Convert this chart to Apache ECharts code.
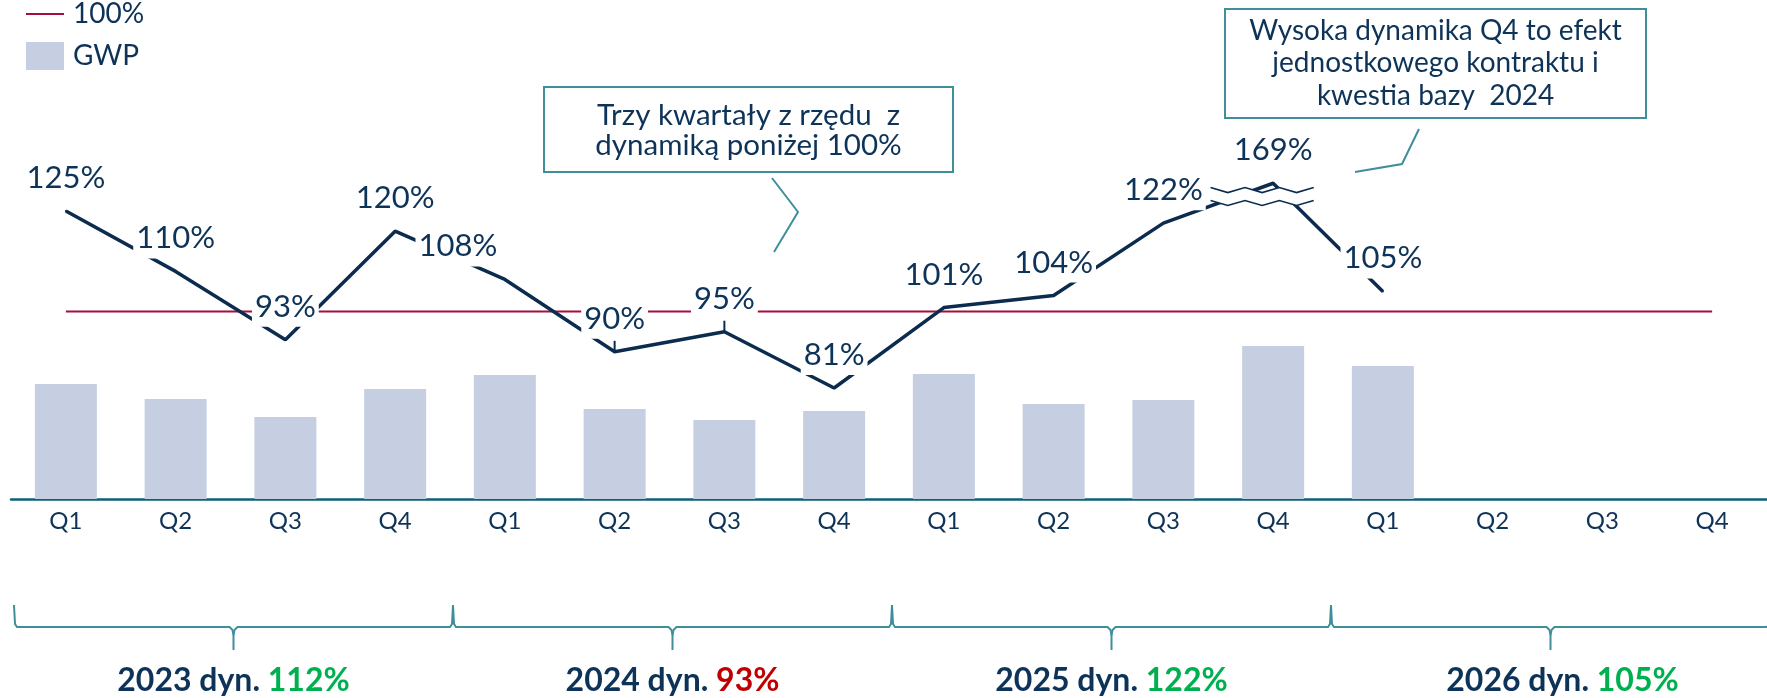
<!DOCTYPE html>
<html><head><meta charset="utf-8">
<script src="https://cdn.jsdelivr.net/npm/echarts@6/dist/echarts.min.js"></script>
<style>html,body{margin:0;padding:0;background:#fff}#c{width:1767px;height:698px}</style>
</head><body><div id="c"></div>
<script>
// ---- data ----
const quarters = ['Q1','Q2','Q3','Q4','Q1','Q2','Q3','Q4','Q1','Q2','Q3','Q4','Q1','Q2','Q3','Q4'];
const gwp = [115, 100, 82, 110, 124, 90, 79, 88, 125, 95, 99, 153, 133, null, null, null];
const dynamics = [125, 110, 93, 120, 108, 90, 95, 81, 101, 104, 122, 169, 105, null, null, null];
const reference100 = [100,100,100,100,100,100,100,100,100,100,100,100,100,100,100,100];
const years = ['2023','2024','2025','2026'];
const yearDynamics = [112, 93, 122, 105];
const yearStart = [0, 4, 8, 12];
const yearEnd = [3, 7, 11, 15];
const breakStart = 127, breakEnd = 167.3;
const breakQuarter = 11;
const note1 = 'Trzy kwartały z rzędu  z\ndynamiką poniżej 100%';
const note2 = 'Wysoka dynamika Q4 to efekt\njednostkowego kontraktu i\nkwestia bazy  2024';

// ---- style ----
const NAVY = '#0e3358', LINE = '#0b2c4f', RED = '#a50f3e', BAR = '#c5cfe1',
      TEAL = '#3e8e9c', AXIS = '#0b6178', GREEN = '#00b050', DRED = '#c00000';
const FONT = 'Lato, "Noto Sans", sans-serif';
// line-shaped legend icon (invisible corner points keep the 38x28 box unscaled)
const LINE_ICON = 'path://M0,0L0.01,0L0.01,0.01Z M0,13L38,13L38,15L0,15Z M37.99,28L38,28L38,27.99Z';

const chart = echarts.init(document.getElementById('c'), null, {renderer: 'canvas'});

const dynItems = dynamics.map((v, i) => {
  if (v === null) return null;
  const item = {value: v};
  if (i === 4) item.label = {offset: [-47, 0]};
  if (i === 5 || i === 6) {
    item.symbol = 'rect'; item.symbolSize = [2, 11]; item.symbolOffset = [0, -5.5];
    item.label = {distance: 2};
  }
  return item;
});

function renderZigzag(params, api) {
  const i = api.value(0);
  const lo = api.coord([i, api.value(1)]);
  const hi = api.coord([i, api.value(2)]);
  const w = api.size([1, 0])[0];
  const x0 = lo[0] - 0.57 * w, x1 = lo[0] + 0.37 * w;
  const n = 6, amp = 2.5;
  const top = [], bot = [];
  for (let k = 0; k <= n; k++) {
    const x = x0 + (x1 - x0) * k / n;
    const d = (k % 2 ? amp : -amp);
    top.push([x, hi[1] + d]);
    bot.push([x, lo[1] + d]);
  }
  return {type: 'group', children: [
    {type: 'polygon', shape: {points: top.concat(bot.slice().reverse())}, style: {fill: '#fff'}},
    {type: 'polyline', shape: {points: top}, style: {stroke: LINE, lineWidth: 1.6, fill: null}},
    {type: 'polyline', shape: {points: bot}, style: {stroke: LINE, lineWidth: 1.6, fill: null}}
  ]};
}

function renderBracket(params, api) {
  const s = api.value(0), e = api.value(2), gi = api.value(3);
  const w = api.size([1, 0])[0];
  const p0 = api.coord([s, 0]);
  const xs = p0[0] - w / 2 + 3;
  const xe = api.coord([e, 0])[0] + w / 2 + 3;
  const y0 = p0[1];
  const yTop = y0 + 106, yLine = y0 + 128, yTick = y0 + 151;
  const xm = (xs + xe) / 2;
  const dv = yearDynamics[gi];
  const st = {stroke: TEAL, lineWidth: 2, fill: null};
  const textX = gi === years.length - 1 ? xm + 12 : xm;
  return {type: 'group', children: [
    {type: 'polyline', shape: {points: [[xs, yTop], [xs + 1, yLine - 3], [xs + 3, yLine], [xm - 4, yLine], [xm - 1, yLine + 3], [xm, yLine + 8], [xm, yTick]]}, style: st},
    {type: 'polyline', shape: {points: [[xm, yLine + 8], [xm + 1, yLine + 3], [xm + 4, yLine], [xe - 3, yLine], [xe - 1, yLine - 3], [xe, yTop]]}, style: st},
    {type: 'text', x: textX, y: y0 + 182, style: {
      text: '{a|' + years[gi] + ' dyn. }{b|' + dv + '%}',
      rich: {
        a: {fontSize: 32, fontFamily: FONT, fontWeight: 'bold', fill: NAVY, color: NAVY},
        b: {fontSize: 32, fontFamily: FONT, fontWeight: 'bold', fill: dv >= 100 ? GREEN : DRED, color: dv >= 100 ? GREEN : DRED}
      },
      align: 'center', verticalAlign: 'middle'
    }}
  ]};
}

const option = {
  animation: false,
  grid: {left: 11, top: 139, width: 1760, height: 360, containLabel: false},
  legend: {
    orient: 'vertical', left: 26, top: 0, padding: 0, itemWidth: 38, itemHeight: 28, itemGap: 14,
    data: [{name: '100%', icon: LINE_ICON, itemStyle: {color: RED}}, {name: 'GWP', icon: 'rect'}],
    textStyle: {fontSize: 28, color: NAVY, fontFamily: FONT, padding: [0, 0, 0, 4]},
    selectedMode: false
  },
  xAxis: {
    type: 'category', data: quarters,
    axisLine: {lineStyle: {color: AXIS, width: 2.5}},
    axisTick: {show: false},
    axisLabel: {fontSize: 24, color: NAVY, fontFamily: FONT, margin: 10}
  },
  yAxis: [
    {type: 'value', min: 0, max: 360, show: false, splitLine: {show: false}},
    {type: 'value', min: 53.4, max: 180, show: false, splitLine: {show: false},
     breaks: [{start: breakStart, end: breakEnd, gap: '3.6%'}],
     breakArea: {show: false}}
  ],
  series: [
    {name: 'GWP', type: 'bar', data: gwp, barWidth: 62, itemStyle: {color: BAR}, z: 1, silent: true},
    {name: '100%', type: 'line', data: reference100, yAxisIndex: 1, symbol: 'none',
     lineStyle: {color: RED, width: 2}, itemStyle: {color: RED}, z: 2, silent: true},
    {name: 'Dynamika', type: 'line', data: dynItems, yAxisIndex: 1,
     symbol: 'circle', symbolSize: 2, showAllSymbol: true,
     lineStyle: {color: LINE, width: 3.5}, itemStyle: {color: LINE},
     label: {show: true, position: 'top', distance: 12, formatter: '{c}%',
       fontSize: 31, fontFamily: FONT, color: NAVY, lineHeight: 34,
       backgroundColor: '#fff', padding: [3, 3, 3, 3]},
     z: 3, silent: true},
    {type: 'custom', yAxisIndex: 1, data: [[breakQuarter, breakStart, breakEnd]],
     encode: {x: 0, y: 1}, renderItem: renderZigzag, z: 4, silent: true},
    {type: 'custom', yAxisIndex: 0, clip: false,
     data: years.map((y, i) => [yearStart[i], 0, yearEnd[i], i]),
     encode: {x: 0, y: 1}, renderItem: renderBracket, z: 1, silent: true}
  ],
  graphic: [
    {type: 'rect', z: 10, shape: {x: 544, y: 87, width: 409, height: 85}, style: {fill: '#fff', stroke: TEAL, lineWidth: 2}},
    {type: 'text', z: 11, x: 748.5, y: 130, style: {text: note1, fontSize: 29.5, lineHeight: 30, fill: NAVY, fontFamily: FONT, align: 'center', verticalAlign: 'middle'}},
    {type: 'polyline', z: 10, shape: {points: [[772, 178], [798, 212], [774, 252]]}, style: {stroke: TEAL, lineWidth: 2, fill: null}},
    {type: 'rect', z: 10, shape: {x: 1225, y: 9, width: 421, height: 109}, style: {fill: '#fff', stroke: TEAL, lineWidth: 2}},
    {type: 'text', z: 11, x: 1435.5, y: 63, style: {text: note2, fontSize: 28, lineHeight: 32.5, fill: NAVY, fontFamily: FONT, align: 'center', verticalAlign: 'middle'}},
    {type: 'polyline', z: 10, shape: {points: [[1419, 129], [1402, 164], [1355, 172]]}, style: {stroke: TEAL, lineWidth: 2, fill: null}}
  ]
};
chart.setOption(option);
</script>
</body></html>
